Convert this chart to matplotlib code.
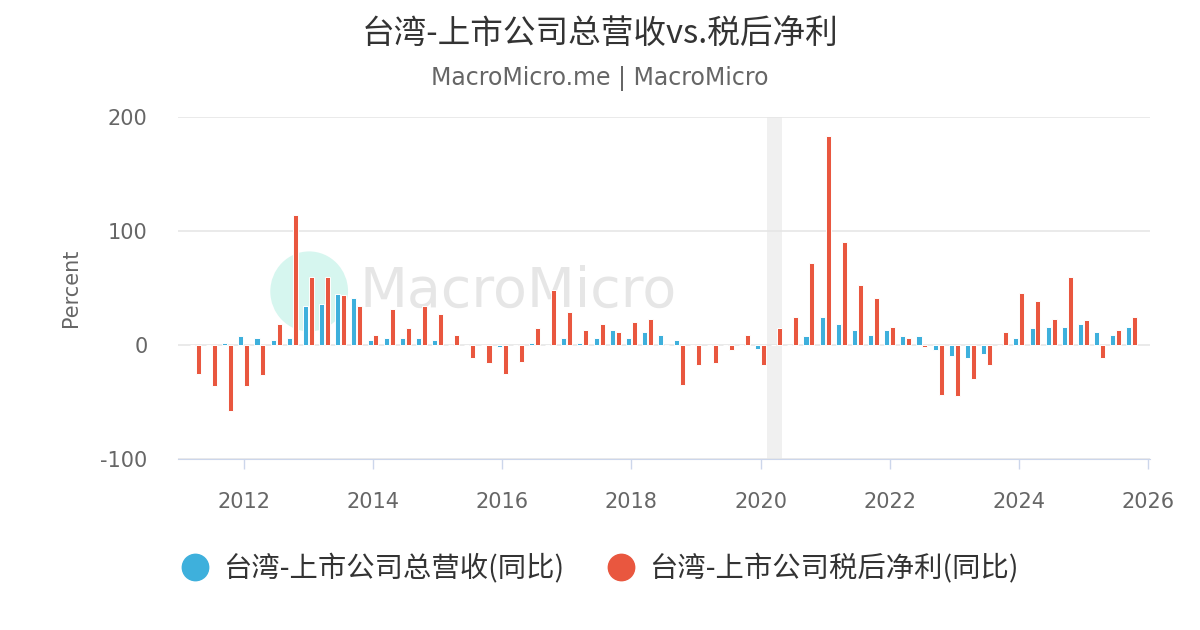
import pandas as pd
import matplotlib.pyplot as plt
from matplotlib.lines import Line2D
from matplotlib.patches import Ellipse

plt.rcParams['axes.unicode_minus'] = False

# quarterly YoY growth (%), 2011Q2 - 2025Q4
quarters = pd.period_range('2011Q2', '2025Q4', freq='Q')
revenue_yoy = [0, 0, 2, 8, 6, 4, 6, 34, 36, 45,
               41, 4, 6, 6, 6, 4, 0, 0, 0, -2,
               0, 2, 0, 6, 2, 6, 13, 6, 11, 9,
               4, 0, 0, 0, 0, -3.5, 0, 0, 7.6, 25,
               18, 13, 9, 13, 8, 8, -4, -9.5, -11.5, -7.5,
               0, 6, 14.6, 16, 16, 18, 11, 9, 16]
profit_yoy = [-25, -36, -58, -36, -26, 18, 114, 60, 60, 44,
              34, 9, 32, 15, 34, 27, 9, -11, -16, -25,
              -15, 15, 48, 29, 13, 18, 11, 20, 23, 0,
              -35, -17.5, -16, -4, 9, -17.5, 15, 25, 72, 183,
              90, 53, 41, 16, 6, -2, -44, -45, -29.5, -17.5,
              11, 46, 39, 23, 60, 22, -11, 13, 25]
year_ticks = [2012, 2014, 2016, 2018, 2020, 2022, 2024, 2026]
recession = (2020.10, 2020.33)

title = '台湾-上市公司总营收vs.税后净利'
subtitle = 'MacroMicro.me | MacroMicro'
labels = ['台湾-上市公司总营收(同比)', '台湾-上市公司税后净利(同比)']
blue = '#3eb0dc'
red = '#e9573f'
cjk = ['Noto Sans CJK SC', 'DejaVu Sans']

x = quarters.year + (quarters.quarter - 1) / 4.0

fig = plt.figure(figsize=(12, 6.3), dpi=100)
ax = fig.add_axes([0.1483, 0.2714, 0.81, 0.5429])

# watermark
ax.add_patch(Ellipse((0.135, 0.49), 0.08, 0.234, transform=ax.transAxes,
                     color='#d6f6ef', zorder=0, lw=0))
ax.text(0.187, 0.49, 'MacroMicro', transform=ax.transAxes, fontsize=40,
        color='#e6e6e6', va='center', ha='left', zorder=0)

ax.axvspan(*recession, color='#f0f0f0', lw=0, zorder=0.5)

w = 0.078
off = 0.046
ax.bar(x - off, revenue_yoy, width=w, color=blue, edgecolor='white', linewidth=0.7, zorder=2)
ax.bar(x + off, profit_yoy, width=w, color=red, edgecolor='white', linewidth=0.7, zorder=2)

ax.set_ylim(-100, 200)
ax.set_xlim(2010.98, 2026.03)
ax.set_yticks([-100, 0, 100, 200])
ax.set_xticks(year_ticks)
ax.grid(axis='y', color='#e6e6e6', lw=1.2, zorder=1)
ax.set_axisbelow(True)
for s in ['top', 'right', 'left']:
    ax.spines[s].set_visible(False)
ax.spines['bottom'].set_color('#ccd6eb')
ax.tick_params(axis='x', colors='#ccd6eb', length=7, width=1, labelcolor='#666666',
               labelsize=15, pad=17)
ax.tick_params(axis='y', length=0, labelcolor='#666666', labelsize=15, pad=22)
ax.set_ylabel('Percent', fontsize=15, color='#666666', labelpad=14)

fig.text(0.5, 0.946, title, ha='center', va='center', fontsize=23.5, color='#333333', family=cjk)
fig.text(0.5, 0.876, subtitle, ha='center', va='center', fontsize=17, color='#666666')

handles = [Line2D([], [], ls='', marker='o', markersize=19, color=c) for c in (blue, red)]
fig.legend(handles, labels, loc='center', bbox_to_anchor=(0.5, 0.097), ncol=2, frameon=False,
           prop={'family': cjk, 'size': 20.4}, handlelength=1.0, handletextpad=0.5,
           columnspacing=1.5, labelcolor='#333333')

fig.savefig('out.png', dpi=100)
